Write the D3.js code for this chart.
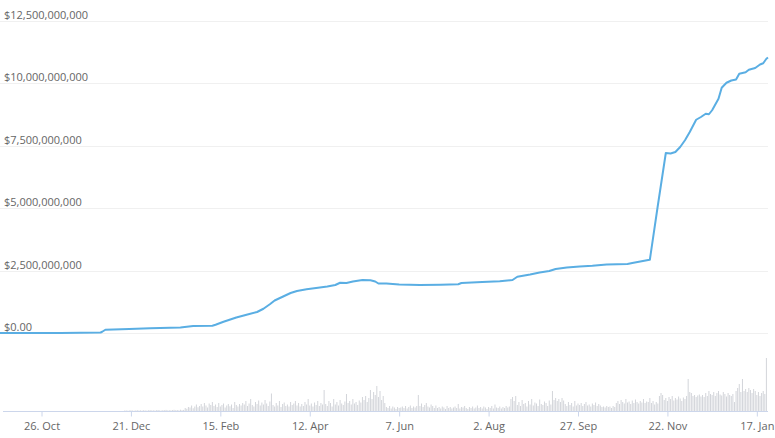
<!DOCTYPE html>
<html lang="en">
<head>
<meta charset="UTF-8">
<title>Market cap and volume</title>
<script src="https://d3js.org/d3.v7.min.js"></script>
<style>
    body { margin: 0; background: #fff; }
    text { font-family: "Open Sans", "DejaVu Sans", sans-serif; font-size: 11px; fill: #666; }
    .grid line { stroke: #f0f0f0; stroke-width: 1px; }
    .line { fill: none; stroke: #5aaee3; stroke-width: 2px; stroke-linejoin: round; }
    .vol { fill: #d3d5da; }
</style>
</head>
<body>
<script>
    // market cap line, values in billions of dollars
    const lineDates = ["2018-09-30", "2018-11-07", "2018-12-02", "2018-12-03", "2018-12-05", "2018-12-20",
        "2019-01-02", "2019-01-21", "2019-01-29", "2019-02-10", "2019-02-12", "2019-02-17", "2019-02-25",
        "2019-03-04", "2019-03-10", "2019-03-14", "2019-03-18", "2019-03-21", "2019-03-26", "2019-03-31",
        "2019-04-04", "2019-04-10", "2019-04-16", "2019-04-23", "2019-04-28", "2019-05-01", "2019-05-05",
        "2019-05-09", "2019-05-15", "2019-05-20", "2019-05-23", "2019-05-25", "2019-05-30", "2019-06-07",
        "2019-06-20", "2019-07-03", "2019-07-14", "2019-07-16", "2019-07-29", "2019-08-09", "2019-08-17",
        "2019-08-20", "2019-08-28", "2019-09-03", "2019-09-09", "2019-09-13", "2019-09-20", "2019-09-28",
        "2019-10-06", "2019-10-15", "2019-10-28", "2019-10-31", "2019-11-10", "2019-11-11", "2019-11-16",
        "2019-11-21", "2019-11-24", "2019-11-27", "2019-11-30", "2019-12-03",
        "2019-12-06", "2019-12-10", "2019-12-13", "2019-12-16", "2019-12-18", "2019-12-20", "2019-12-24",
        "2019-12-26", "2019-12-29", "2020-01-01", "2020-01-04", "2020-01-06", "2020-01-10", "2020-01-12",
        "2020-01-16", "2020-01-19", "2020-01-21", "2020-01-23", "2020-01-24"];
    const lineValues = [0.00, 0.00, 0.02, 0.05, 0.13, 0.16,
        0.19, 0.22, 0.28, 0.29, 0.33, 0.45, 0.62,
        0.74, 0.84, 0.97, 1.15, 1.30, 1.45, 1.60,
        1.68, 1.75, 1.80, 1.86, 1.92, 2.01, 2.00,
        2.06, 2.12, 2.11, 2.06, 1.98, 1.98, 1.94,
        1.92, 1.93, 1.95, 2.00, 2.04, 2.07, 2.12,
        2.25, 2.34, 2.42, 2.48, 2.56, 2.62, 2.66,
        2.69, 2.74, 2.76, 2.80, 2.92, 2.93, 5.10,
        7.20, 7.18, 7.24, 7.44, 7.71,
        8.04, 8.53, 8.64, 8.77, 8.75, 8.91, 9.37,
        9.81, 10.01, 10.10, 10.14, 10.37, 10.43, 10.53,
        10.60, 10.74, 10.79, 10.97, 11.02];

    // daily volume in millions, first bar on volumeStart
    const volumeStart = "2018-12-17";
    const volumes = [
        8, 12, 6, 10, 14, 9, 7, 11, 15, 10,
        12, 8, 16, 10, 9, 13, 18, 11, 14, 10,
        15, 20, 12, 9, 17, 14, 22, 11, 16, 13,
        18, 24, 14, 20, 12, 26, 17, 22,
        60, 45, 80, 70, 110, 55, 90, 130, 75, 100,
        140, 90, 160, 110, 70, 150, 120,
        180,
        100, 130, 80, 160, 90, 120, 150, 70, 110, 140, 95, 130, 60, 180, 120, 90, 140,
        110, 160, 130, 200, 100, 150, 240, 120, 90, 180, 140, 210, 110, 170, 130, 220, 150, 100, 190,
        350,
        120, 90, 160, 110, 200, 80, 140, 170, 100, 130, 90, 180, 120, 150, 200, 110, 160, 90, 140,
        100, 180, 130, 240, 110, 150, 90, 170, 120, 200, 100, 160, 130,
        420,
        140, 100, 200, 160, 90, 240, 130, 180, 110, 220, 150, 120, 190,
        340,
        160, 200, 130, 240, 150, 180, 120, 210, 170,
        280,
        220, 300, 180, 260, 420, 240, 380, 320, 500, 280, 400, 220, 300, 160,
        80, 60, 100, 50, 90, 70, 40, 80, 60,
        70, 90, 60, 100, 50, 80, 110, 60, 90, 70, 100,
        320,
        100, 150, 80, 120, 160, 90, 70, 130, 100, 60, 110,
        60, 80, 50, 90, 70, 40, 100, 60, 80, 50,
        70, 90, 60, 140, 50, 80, 70, 100, 60, 40,
        80, 60, 90, 50, 70, 110, 60, 80, 50, 90,
        70, 40, 80, 60, 100, 50, 130, 70, 60, 90,
        50, 80, 60, 100, 70, 90,
        240, 280, 200, 300,
        120, 180, 100, 220, 140, 160, 90, 200, 130, 240, 110, 170, 150, 100, 230, 140, 120, 190, 160, 100, 210, 130,
        400,
        220, 260, 200, 240, 180, 260, 210,
        140, 100, 180, 120, 160, 90, 200, 110, 150,
        120, 160, 100, 140, 180, 110, 130, 90, 150, 120, 170, 100, 140, 110,
        80, 90, 70, 100, 80, 90, 60, 100, 80,
        160, 200, 140, 220, 180, 150, 240, 170, 190, 140, 210, 160, 230, 180, 150, 200, 170, 240, 160, 190,
        180, 260,
        160, 200, 130, 180, 150,
        300, 360, 320,
        220, 260, 200, 280, 240, 300, 210, 260, 230, 290, 250, 200, 270, 240, 300,
        640,
        380, 360,
        300, 320, 280, 310, 330, 290, 320,
        280, 360, 300, 400, 340, 320, 380, 300, 360, 400, 330, 310, 380, 340, 290, 360, 320, 300, 340,
        180,
        400, 460, 540,
        380,
        640,
        400, 440, 380, 460, 420, 360, 440, 400,
        320, 380, 300, 360, 400, 340,
        1060
    ];

    const yTicks = [0, 2.5e9, 5e9, 7.5e9, 10e9, 12.5e9];
    const xTickDates = ["2018-10-26", "2018-12-21", "2019-02-15", "2019-04-12", "2019-06-07",
        "2019-08-02", "2019-09-27", "2019-11-22", "2020-01-17"];

    const width = 775, height = 438;
    const parse = d3.utcParse("%Y-%m-%d");

    const line = lineDates.map((d, i) => ({date: parse(d), value: lineValues[i] * 1e9}));
    const v0 = parse(volumeStart);
    const vol = volumes.map((v, i) => ({date: d3.utcDay.offset(v0, i), value: v}));

    const x = d3.scaleUtc()
        .domain([parse("2018-09-30"), parse("2020-01-24")])
        .range([0, 768]);
    const y = d3.scaleLinear().domain([0, 12.5e9]).range([333, 20.5]);
    const yVol = d3.scaleLinear().domain([0, 1100]).range([411, 356]);

    const svg = d3.select("body").append("svg")
        .attr("width", width)
        .attr("height", height);

    // grid lines and labels sitting above them
    const grid = svg.append("g").attr("class", "grid");
    grid.selectAll("line").data(yTicks).join("line")
        .attr("x1", 0).attr("x2", 768)
        .attr("y1", d => Math.round(y(d)) + 0.5)
        .attr("y2", d => Math.round(y(d)) + 0.5);
    grid.selectAll("text").data(yTicks).join("text")
        .attr("x", 4)
        .attr("y", d => y(d) - 2)
        .text(d => d === 0 ? "$0.00" : d3.format("$,")(d));

    // volume bars
    svg.append("g").selectAll("rect").data(vol).join("rect")
        .attr("class", "vol")
        .attr("x", d => x(d.date) - 0.5)
        .attr("width", 1)
        .attr("y", d => yVol(d.value))
        .attr("height", d => yVol(0) - yVol(d.value));

    // market cap line
    svg.append("path")
        .datum(line)
        .attr("class", "line")
        .attr("d", d3.line().x(d => x(d.date)).y(d => y(d.value)));

    // bottom axis
    const xAxis = d3.axisBottom(x)
        .tickValues(xTickDates.map(parse))
        .tickFormat(d3.utcFormat("%-d. %b"))
        .tickSize(5)
        .tickPadding(6);
    const ax = svg.append("g")
        .attr("transform", "translate(0,411.5)")
        .call(xAxis);
    ax.select(".domain").attr("stroke", "#ccd6eb").attr("d", "M3,0H768");
    ax.selectAll(".tick line").attr("stroke", "#ccd6eb");
    ax.selectAll(".tick text")
        .attr("fill", "#666")
        .style("font-size", "11px")
        .style("font-family", "'Open Sans', 'DejaVu Sans', sans-serif");
</script>
</body>
</html>
